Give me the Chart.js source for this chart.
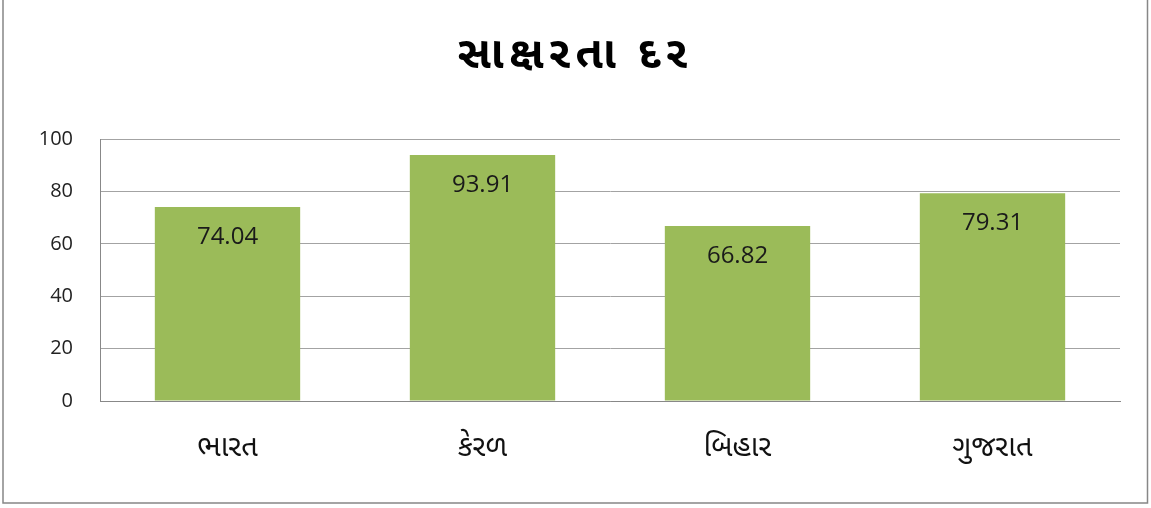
<!DOCTYPE html>
<html>
<head>
<meta charset="utf-8">
<script src="https://cdn.jsdelivr.net/npm/chart.js@4"></script>
<style>
html,body{margin:0;padding:0;background:#fff;}
#wrap{width:1151px;height:508px;position:relative;}
</style>
</head>
<body>
<div id="wrap"><canvas id="c" width="1151" height="508"></canvas></div>
<script>
const titleText = 'સાક્ષરતા દર';
const categories = ['ભારત', 'કેરળ', 'બિહાર', 'ગુજરાત'];
const literacyRate = [74.04, 93.91, 66.82, 79.31];
const yTicks = [0, 20, 40, 60, 80, 100];

const FONT = '"Noto Sans Gujarati", "Lohit Gujarati", "Open Sans", "Noto Sans", sans-serif';
const NUMFONT = '"Open Sans", "Noto Sans", sans-serif';

const frame = {
  id: 'frame',
  beforeDraw(chart) {
    const ctx = chart.ctx;
    ctx.save();
    ctx.fillStyle = '#fff';
    ctx.fillRect(0, 0, chart.width, chart.height);
    ctx.strokeStyle = '#878787';
    ctx.lineWidth = 1.5;
    ctx.beginPath();
    ctx.moveTo(3, 0);
    ctx.lineTo(3, 503);
    ctx.lineTo(1147.5, 503);
    ctx.lineTo(1147.5, 0);
    ctx.stroke();
    ctx.restore();
    // title spacing (title is drawn before the datasets)
    ctx.letterSpacing = '5.5px';
  },
  beforeDatasetsDraw(chart) {
    chart.ctx.letterSpacing = '0px';
  }
};

const valueLabels = {
  id: 'valueLabels',
  afterDatasetsDraw(chart) {
    const ctx = chart.ctx;
    const meta = chart.getDatasetMeta(0);
    ctx.save();
    ctx.font = '24px ' + NUMFONT;
    ctx.fillStyle = '#1a1a1a';
    ctx.textAlign = 'center';
    ctx.textBaseline = 'middle';
    meta.data.forEach((bar, i) => {
      const v = chart.data.datasets[0].data[i];
      ctx.fillText(v.toFixed(2), bar.x, bar.y + 30);
    });
    ctx.restore();
  }
};

new Chart(document.getElementById('c'), {
  type: 'bar',
  data: {
    labels: categories,
    datasets: [{
      data: literacyRate,
      backgroundColor: '#9BBB59',
      borderWidth: 0,
      barPercentage: 0.57,
      categoryPercentage: 1.0
    }]
  },
  options: {
    responsive: false,
    animation: false,
    devicePixelRatio: 1,
    layout: { padding: { left: 30, right: 31, top: 0, bottom: 0 } },
    plugins: {
      legend: { display: false },
      tooltip: { enabled: false },
      title: {
        display: true,
        text: titleText,
        color: '#000',
        font: { family: FONT, size: 44, weight: 'bold', lineHeight: 1.2 },
        padding: { top: 33, bottom: 53.2 }
      }
    },
    scales: {
      x: {
        grid: { display: false, drawTicks: false },
        border: { display: true, color: '#888', width: 1 },
        ticks: { color: '#111', font: { family: FONT, size: 29 }, padding: 32, z: 1 },
        afterFit(scale) { scale.height = 107; }
      },
      y: {
        min: 0,
        max: 100,
        afterBuildTicks(scale) { scale.ticks = yTicks.map(v => ({ value: v })); },
        grid: { color: '#a3a3a3', drawTicks: false, lineWidth: 1 },
        border: { display: true, color: '#888', width: 1 },
        ticks: { color: '#222', font: { family: NUMFONT, size: 20 }, padding: 27, z: 1 },
        afterFit(scale) { scale.width = 70; }
      }
    }
  },
  plugins: [frame, valueLabels]
});
</script>
</body>
</html>
